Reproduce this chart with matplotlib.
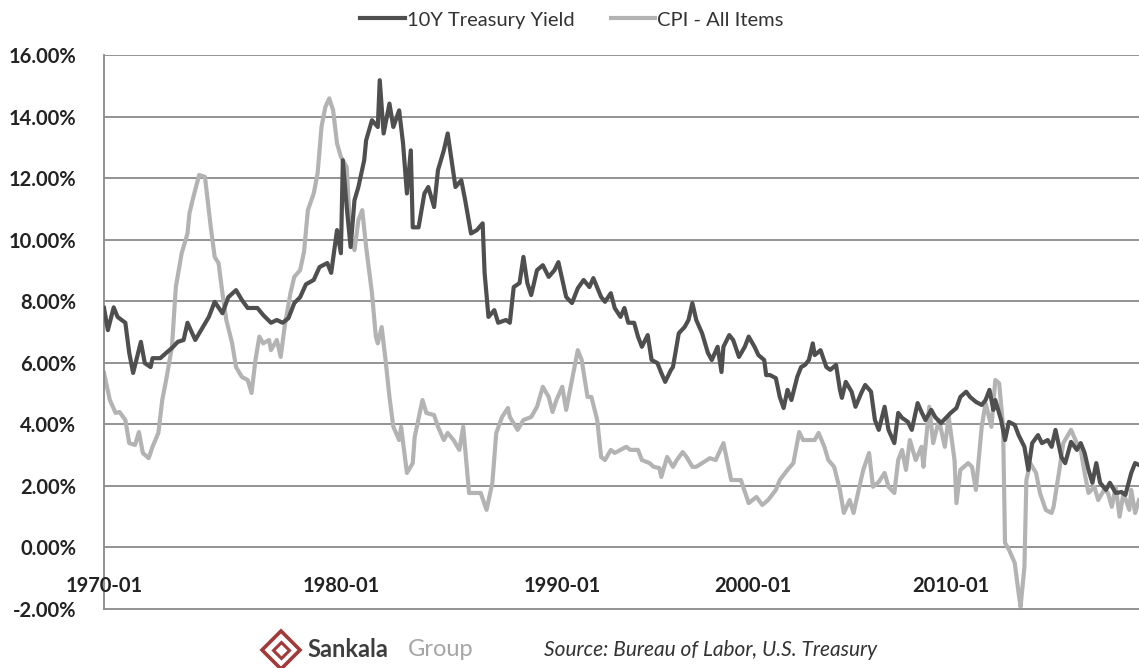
import matplotlib
matplotlib.use("Agg")
import matplotlib.pyplot as plt
from matplotlib.lines import Line2D

# month index since 1970-01 for each reading, and value in %
ty_month = [0, 2, 5, 7, 11, 13, 15, 19, 21, 24, 25, 29, 32, 35, 38, 41, 43, 47, 50, 54,
            57, 61, 64, 68, 71, 74, 79, 82, 86, 89, 92, 95, 98, 101, 104, 108, 111, 115, 117, 120,
            122, 123, 125, 127, 129, 131, 134, 135, 138, 141, 142, 144, 147, 149, 152, 154, 156, 158, 159, 162,
            165, 167, 170, 172, 175, 177, 179, 181, 184, 186, 189, 192, 195, 196, 198, 201, 203, 207, 209, 211,
            214, 216, 218, 220, 223, 226, 229, 232, 234, 238, 241, 244, 247, 250, 252, 256, 258, 261, 263, 266,
            268, 270, 273, 275, 277, 280, 282, 285, 287, 289, 292, 293, 296, 299, 301, 303, 305, 308, 311, 313,
            316, 318, 319, 322, 324, 327, 330, 332, 335, 337, 340, 341, 343, 346, 348, 350, 352, 354, 357, 359,
            361, 363, 365, 366, 369, 372, 374, 377, 379, 380, 382, 385, 387, 390, 392, 395, 397, 399, 402, 404,
            407, 409, 411, 414, 416, 419, 421, 423, 426, 428, 431, 434, 436, 439, 441, 444, 446, 449, 452, 454,
            456, 458, 459, 462, 464, 466, 469, 471, 474, 476, 478, 481, 483, 486, 488, 490, 493, 495, 498, 501,
            503, 505, 507, 509, 511, 513, 516, 518, 521, 524, 526, 529, 531, 533]
ty_value = [7.78, 7.06, 7.8, 7.49, 7.3, 6.32, 5.67, 6.68, 5.99, 5.86, 6.15, 6.15, 6.32, 6.48, 6.68, 6.74, 7.3, 6.74, 7.06, 7.49,
            7.98, 7.61, 8.13, 8.36, 8.04, 7.78, 7.78, 7.55, 7.3, 7.39, 7.3, 7.45, 7.94, 8.13, 8.55, 8.69, 9.11, 9.24, 8.92, 10.31,
            9.56, 12.58, 11.06, 9.76, 11.28, 11.71, 12.58, 13.23, 13.88, 13.66, 15.18, 13.45, 14.42, 13.66, 14.2, 13.13, 11.5, 12.9, 10.4, 10.4,
            11.5, 11.71, 11.06, 12.26, 12.9, 13.45, 12.58, 11.71, 11.93, 11.28, 10.2, 10.31, 10.53, 8.92, 7.49, 7.71, 7.3, 7.39, 7.3, 8.46,
            8.59, 9.44, 8.59, 8.2, 9.01, 9.17, 8.79, 9.01, 9.27, 8.14, 7.94, 8.42, 8.69, 8.46, 8.75, 8.14, 7.98, 8.26, 7.78, 7.49,
            7.78, 7.3, 7.3, 6.85, 6.52, 6.9, 6.09, 5.99, 5.67, 5.38, 5.77, 5.86, 6.96, 7.16, 7.39, 7.94, 7.39, 6.96, 6.32, 6.09,
            6.52, 5.7, 6.52, 6.9, 6.74, 6.19, 6.52, 6.85, 6.52, 6.25, 6.09, 5.6, 5.6, 5.5, 4.89, 4.53, 5.12, 4.79, 5.54, 5.86,
            5.93, 6.09, 6.63, 6.25, 6.41, 5.86, 5.77, 5.93, 5.12, 4.86, 5.38, 5.06, 4.57, 5.02, 5.28, 5.06, 4.14, 3.82, 4.57, 3.82,
            3.39, 4.37, 4.21, 4.08, 3.82, 4.69, 4.4, 4.14, 4.47, 4.24, 4.04, 4.24, 4.37, 4.53, 4.89, 5.06, 4.89, 4.73, 4.63, 4.79,
            5.12, 4.47, 4.79, 4.14, 3.49, 4.08, 3.98, 3.65, 3.27, 2.52, 3.39, 3.65, 3.39, 3.49, 3.27, 3.82, 2.94, 2.74, 3.43, 3.17,
            3.39, 3.07, 2.52, 2.1, 2.74, 2.1, 1.87, 2.1, 1.77, 1.8, 1.71, 2.42, 2.74, 2.68]

cpi_month = [0, 3, 6, 8, 11, 13, 16, 18, 20, 23, 25, 28, 30, 32, 35, 37, 40, 43, 44, 46,
             49, 52, 55, 57, 59, 61, 63, 66, 68, 71, 74, 76, 78, 80, 82, 85, 86, 89, 91, 93,
             96, 98, 101, 103, 105, 108, 110, 112, 114, 116, 118, 120, 122, 125, 127, 129, 131, 133, 135, 138,
             140, 141, 143, 145, 147, 149, 152, 153, 156, 159, 160, 164, 166, 170, 172, 175, 177, 180, 183, 185,
             188, 190, 194, 197, 200, 202, 205, 208, 209, 213, 216, 220, 223, 226, 229, 231, 233, 236, 238, 241,
             244, 246, 249, 251, 254, 256, 258, 261, 263, 266, 269, 271, 275, 277, 281, 283, 286, 287, 290, 293,
             295, 298, 300, 303, 305, 309, 312, 315, 319, 323, 328, 332, 336, 339, 342, 346, 348, 352, 355, 358,
             360, 363, 366, 368, 371, 373, 376, 379, 381, 384, 386, 389, 391, 394, 396, 399, 402, 404, 407, 409,
             411, 413, 415, 418, 421, 422, 425, 427, 430, 433, 435, 438, 439, 441, 445, 447, 449, 452, 454, 457,
             459, 461, 463, 464, 466, 469, 471, 472, 474, 475, 477, 480, 482, 485, 488, 489, 492, 494, 498, 501,
             503, 505, 507, 510, 512, 515, 517, 519, 521, 523, 525, 528, 529, 531, 533]
cpi_value = [5.67, 4.79, 4.37, 4.4, 4.14, 3.39, 3.33, 3.75, 3.07, 2.9, 3.27, 3.72, 4.79, 5.44, 6.52, 8.46, 9.56, 10.2, 10.85, 11.38,
             12.1, 12.04, 10.4, 9.44, 9.24, 8.26, 7.39, 6.63, 5.86, 5.54, 5.44, 5.02, 6.09, 6.85, 6.63, 6.74, 6.41, 6.74, 6.19, 7.16,
             8.26, 8.79, 9.01, 9.6, 10.96, 11.5, 12.15, 13.66, 14.31, 14.59, 14.2, 13.13, 12.69, 12.36, 9.99, 9.66, 10.63, 10.96, 9.76, 8.26,
             6.85, 6.63, 7.16, 6.09, 4.89, 3.92, 3.49, 3.92, 2.42, 2.74, 3.59, 4.79, 4.37, 4.3, 3.92, 3.49, 3.72, 3.49, 3.17, 3.92,
             1.77, 1.77, 1.77, 1.22, 2.1, 3.72, 4.24, 4.53, 4.24, 3.82, 4.14, 4.24, 4.57, 5.22, 4.89, 4.4, 4.79, 5.22, 4.47, 5.44,
             6.41, 6.09, 4.89, 4.89, 4.14, 2.94, 2.84, 3.17, 3.07, 3.17, 3.27, 3.17, 3.17, 2.84, 2.74, 2.62, 2.58, 2.29, 2.94, 2.62,
             2.84, 3.1, 2.94, 2.62, 2.62, 2.78, 2.9, 2.84, 3.39, 2.19, 2.19, 1.44, 1.64, 1.38, 1.54, 1.87, 2.19, 2.52, 2.74, 3.75,
             3.49, 3.49, 3.49, 3.72, 3.27, 2.84, 2.62, 1.87, 1.12, 1.54, 1.12, 1.97, 2.52, 3.07, 1.97, 2.13, 2.42, 1.97, 1.77, 2.84,
             3.17, 2.52, 3.49, 2.84, 3.27, 2.62, 4.57, 3.39, 4.14, 3.27, 4.24, 2.84, 1.44, 2.52, 2.74, 2.62, 1.87, 3.92, 4.69, 3.92,
             5.44, 5.33, 3.92, 0.15, -0.07, -0.5, -1.48, -1.93, -0.63, 2.19, 2.74, 2.42, 1.77, 1.22, 1.12, 1.32, 2.52, 3.39, 3.82, 3.39,
             3.17, 2.42, 1.77, 1.97, 1.54, 1.87, 1.77, 1.32, 1.97, 1.0, 1.77, 1.22, 1.87, 1.12, 1.54]

tick_labels = ["1970-01", "1980-01", "1990-01", "2000-01", "2010-01"]
tick_month = [0, 122, 236, 334, 436]
y_ticks = [-2, 0, 2, 4, 6, 8, 10, 12, 14, 16]

plt.rcParams['font.family'] = ['Lato', 'DejaVu Sans']

fig = plt.figure(figsize=(11.39, 6.68), dpi=100)
ax = fig.add_axes([0.0913, 0.0883, 0.9087, 0.8294])

ax.plot(ty_month, ty_value, color='#4f4f4f', lw=3.0, label='10Y Treasury Yield', zorder=3)
ax.plot(cpi_month, cpi_value, color='#b3b3b3', lw=3.0, label='CPI - All Items', zorder=2)

ax.set_xlim(0, 533)
ax.set_ylim(-2, 16)
ax.set_yticks(y_ticks)
ax.set_yticklabels(["%.2f%%" % v for v in y_ticks], fontsize=14.5, fontweight='bold', color='#222222')
ax.set_xticks([])
ax.tick_params(axis='y', length=0, pad=20)
for v in y_ticks[1:]:
    ax.axhline(v, color='#8a8a8a', lw=1.3, zorder=1)

for s in ['top', 'right']:
    ax.spines[s].set_visible(False)
for s in ['left', 'bottom']:
    ax.spines[s].set_color('#8a8a8a')
    ax.spines[s].set_linewidth(1.3)

for pos, lab in zip(tick_month, tick_labels):
    ax.text(pos, -1.25, lab, ha='center', va='center', fontsize=14.5,
            fontweight='bold', color='#222222', zorder=4)

leg = fig.legend(loc='upper center', bbox_to_anchor=(0.502, 1.01), ncol=2, frameon=False,
                 fontsize=14.5, handlelength=2.2, handletextpad=0.1, columnspacing=1.8)
for t in leg.get_texts():
    t.set_color('#333333')

# footer logo and source
logo_x, logo_y = 0.247, 0.027
fig.add_artist(Line2D([logo_x], [logo_y], marker='D', markersize=19, markerfacecolor='none',
                      markeredgecolor='#a33a3a', markeredgewidth=2.6, transform=fig.transFigure))
fig.add_artist(Line2D([logo_x], [logo_y], marker='D', markersize=8, markerfacecolor='none',
                      markeredgecolor='#a33a3a', markeredgewidth=2.2, transform=fig.transFigure))
fig.text(0.270, 0.027, "Sankala", fontsize=17, fontweight='bold', color='#3d3d3d', ha='left', va='center')
fig.text(0.358, 0.027, "Group", fontsize=17, color='#a5a5a5', ha='left', va='center')
fig.text(0.478, 0.027, "Source: Bureau of Labor, U.S. Treasury", fontsize=15, style='italic',
         color='#333333', ha='left', va='center')

fig.savefig("out.png", dpi=100)
